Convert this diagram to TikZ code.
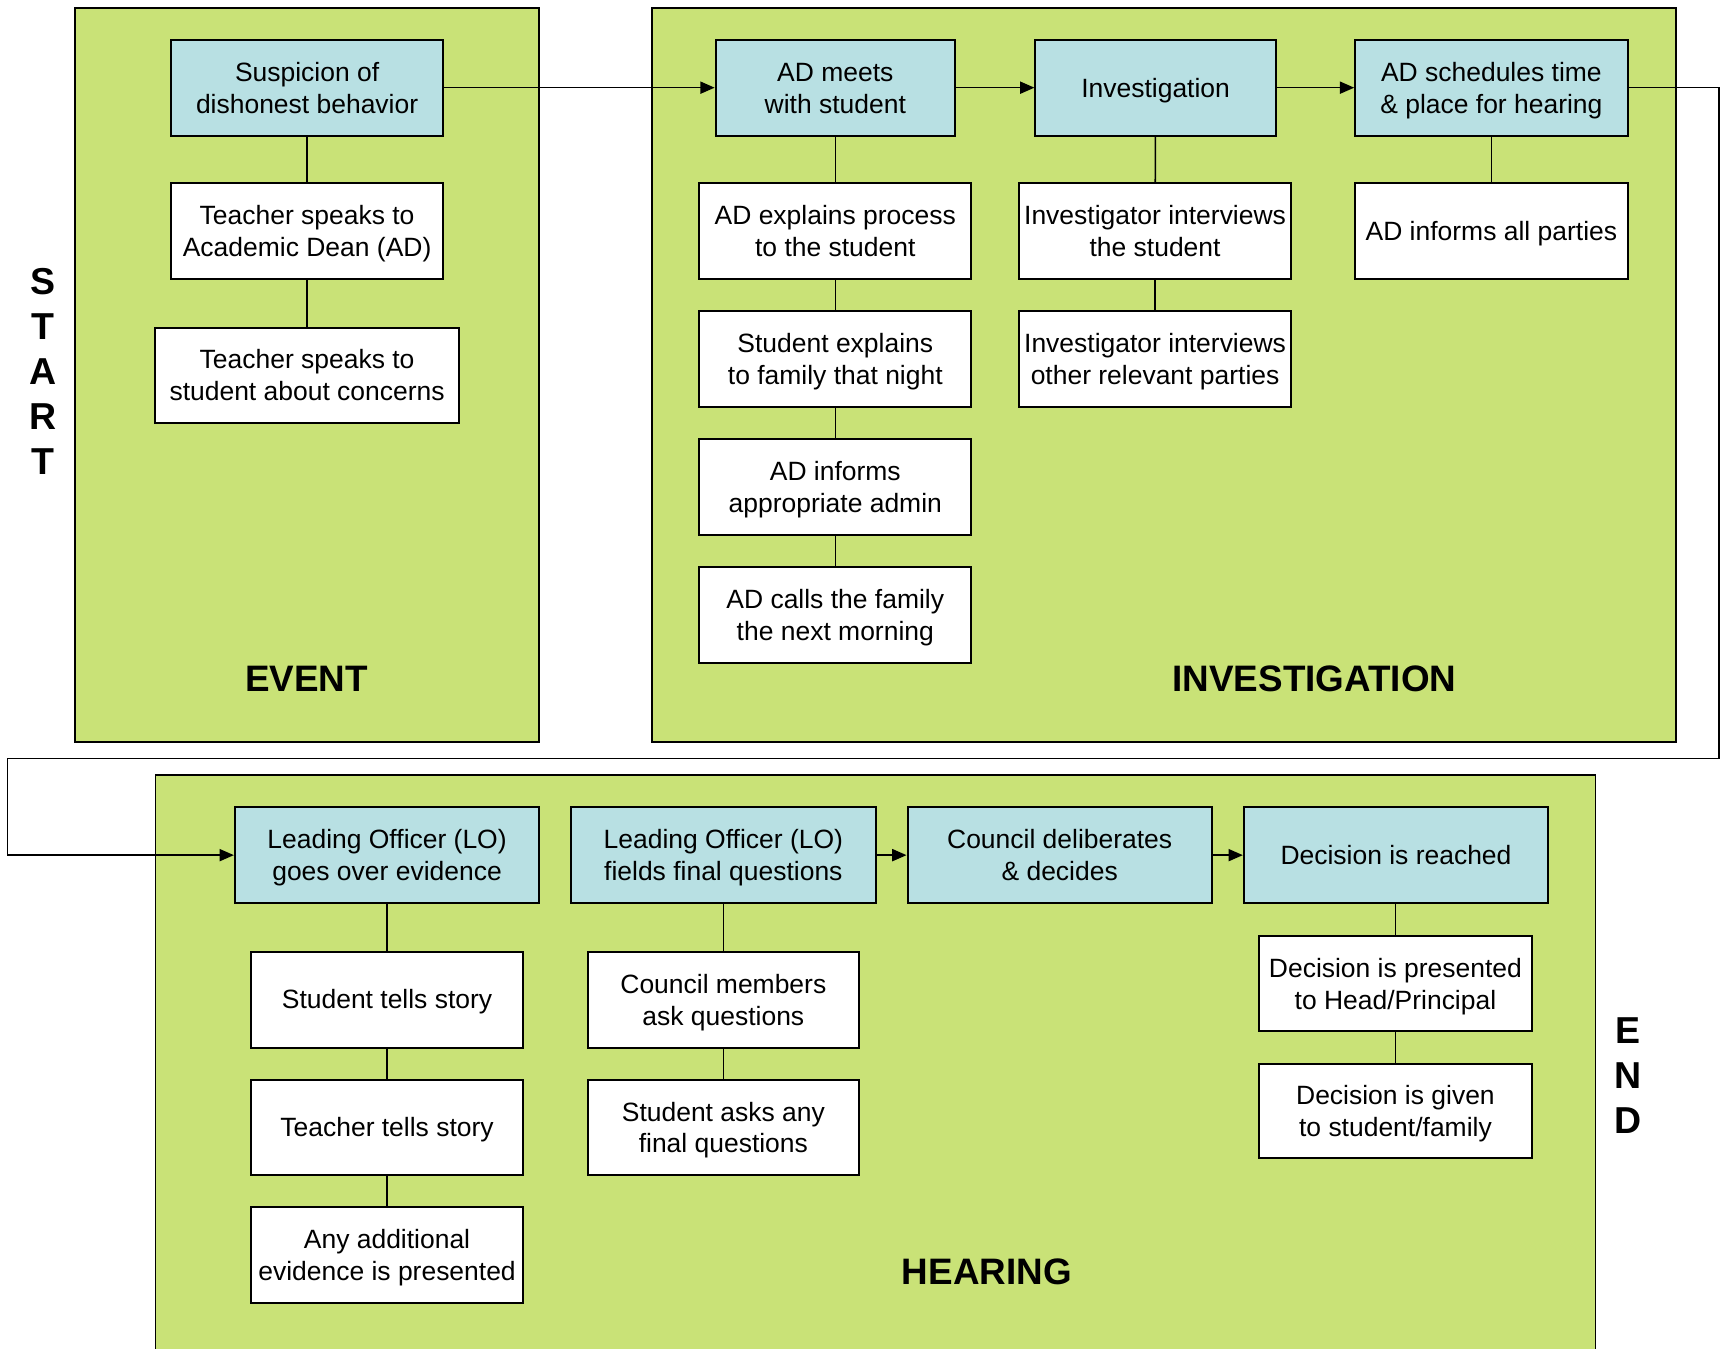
\documentclass[tikz,border=0pt]{standalone}
\usepackage{fontspec}
\setmainfont{Liberation Sans}
\usetikzlibrary{arrows.meta}
\definecolor{panelgreen}{RGB}{201,226,119}
\definecolor{boxblue}{RGB}{184,224,227}
\newcommand\twol[2]{\begin{tabular}{@{}c@{}}\rule{0pt}{12.95pt}#1\\#2\end{tabular}}
\tikzset{
  panel/.style={fill=panelgreen, draw=black, line width=0.8pt},
  stepbox/.style={draw=black, line width=0.9pt, fill=white, align=center, inner sep=0pt,
    minimum height=43.5pt, font=\fontsize{12}{14.5}\selectfont,
    execute at begin node={\rule{0pt}{11pt}}, execute at end node={\rule[-2.4pt]{0pt}{2.4pt}}},
  headbox/.style={stepbox, fill=boxblue},
  flow/.style={draw=black, line width=0.7pt, -{Triangle[length=6.5pt,width=5.5pt]}},
  link/.style={draw=black, line width=0.7pt},
  biglabel/.style={font=\fontsize{16.7}{20}\selectfont\bfseries},
  sidelabel/.style={font=\fontsize{17}{20.4}\selectfont\bfseries, align=center, inner sep=0pt},
}
\begin{document}
\begin{tikzpicture}[x=0.5pt,y=-0.5pt]
\useasboundingbox (0,0) rectangle (1568,1223);
% panels
\draw[panel] (68,7) rectangle (489,673);
\draw[panel] (591,7) rectangle (1520,673);
\fill[panelgreen] (141,703) rectangle (1447,1223);
\draw[line width=0.8pt] (141,1223) -- (141,703) -- (1447,703) -- (1447,1223);
% side and panel labels
\node[sidelabel] (start) at (39,337) {S\\T\\A\\R\\T};
\node[sidelabel] (end) at (1476,975) {E\\N\\D};
\node[biglabel] (lblevent) at (278,616) {EVENT};
\node[biglabel] (lblinv) at (1192,616) {INVESTIGATION};
\node[biglabel] (lblhear) at (895,1153) {HEARING};
% event
\node[headbox, minimum width=123.5pt] (susp) at (278.5,79.5) {\twol{Suspicion of}{dishonest behavior}};
\node[stepbox, minimum width=123.5pt] (tad) at (278.5,209.5) {\twol{Teacher speaks to}{Academic Dean (AD)}};
\node[stepbox, minimum width=137.5pt] (tstu) at (278.5,340.5) {\twol{Teacher speaks to}{student about concerns}};
% investigation
\node[headbox, minimum width=108.5pt] (meet) at (757.5,79.5) {\twol{AD meets}{with student}};
\node[headbox, minimum width=109pt] (invest) at (1048,79.5) {Investigation};
\node[headbox, minimum width=123.5pt] (sched) at (1352.5,79.5) {\twol{AD schedules time}{\&\ place for hearing}};
\node[stepbox, minimum width=123.5pt] (explain) at (757.5,209.5) {\twol{AD explains process}{to the student}};
\node[stepbox, minimum width=123.5pt] (family) at (757.5,325.5) {\twol{Student explains}{to family that night}};
\node[stepbox, minimum width=123.5pt] (admin) at (757.5,441.5) {\twol{AD informs}{appropriate admin}};
\node[stepbox, minimum width=123.5pt] (calls) at (757.5,557.5) {\twol{AD calls the family}{the next morning}};
\node[stepbox, minimum width=123.5pt] (intstu) at (1047.5,209.5) {\twol{Investigator interviews}{the student}};
\node[stepbox, minimum width=123.5pt] (intoth) at (1047.5,325.5) {\twol{Investigator interviews}{other relevant parties}};
\node[stepbox, minimum width=123.5pt] (parties) at (1352.5,209.5) {AD informs all parties};
% hearing
\node[headbox, minimum width=138pt] (lo1) at (351,775.5) {\twol{Leading Officer (LO)}{goes over evidence}};
\node[headbox, minimum width=138pt] (lo2) at (656,775.5) {\twol{Leading Officer (LO)}{fields final questions}};
\node[headbox, minimum width=138pt] (council) at (961,775.5) {\twol{Council deliberates}{\&\ decides}};
\node[headbox, minimum width=138pt] (reached) at (1266,775.5) {Decision is reached};
\node[stepbox, minimum width=123pt] (stu) at (351,906.5) {Student tells story};
\node[stepbox, minimum width=123pt] (tea) at (351,1022.5) {Teacher tells story};
\node[stepbox, minimum width=123pt] (addl) at (351,1138.5) {\twol{Any additional}{evidence is presented}};
\node[stepbox, minimum width=123pt] (cm) at (656,906.5) {\twol{Council members}{ask questions}};
\node[stepbox, minimum width=123pt] (sa) at (656,1022.5) {\twol{Student asks any}{final questions}};
\node[stepbox, minimum width=123.5pt, minimum height=43pt] (dp) at (1265.5,892) {\twol{Decision is presented}{to Head/Principal}};
\node[stepbox, minimum width=123.5pt, minimum height=43pt] (dg) at (1265.5,1007.5) {\twol{Decision is given}{to student/family}};
% plain links
\draw[link] (susp) -- (tad);
\draw[link] (tad) -- (tstu);
\draw[link] (meet) -- (explain);
\draw[link] (explain) -- (family);
\draw[link] (family) -- (admin);
\draw[link] (admin) -- (calls);
\draw[link] (invest) -- (intstu);
\draw[link] (intstu) -- (intoth);
\draw[link] (sched) -- (parties);
\draw[link] (lo1) -- (stu);
\draw[link] (stu) -- (tea);
\draw[link] (tea) -- (addl);
\draw[link] (lo2) -- (cm);
\draw[link] (cm) -- (sa);
\draw[link] (reached.south -| dp.north) -- (dp);
\draw[link] (dp) -- (dg);
% flow arrows
\draw[flow] (susp) -- (meet);
\draw[flow] (meet) -- (invest);
\draw[flow] (invest) -- (sched);
\draw[flow] (lo2) -- (council);
\draw[flow] (council) -- (reached);
\coordinate (r1) at (1559,688);
\coordinate (r2) at (7,688);
\draw[flow] (sched.east) -| (r1) -- (r2) |- (lo1.west);
\end{tikzpicture}
\end{document}
